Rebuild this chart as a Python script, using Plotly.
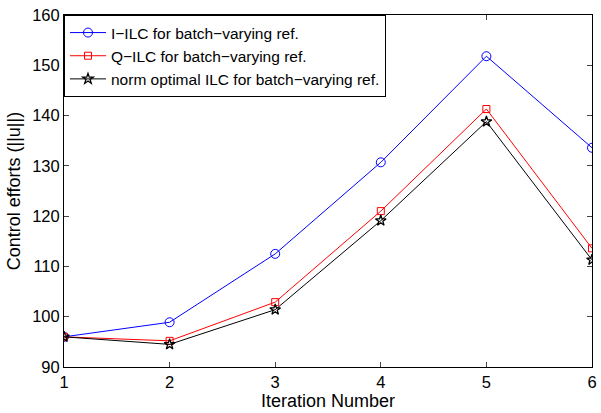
import plotly.graph_objects as go

iterations = [1, 2, 3, 4, 5, 6]
i_ilc = [96.0, 98.9, 112.5, 130.7, 151.8, 133.6]
q_ilc = [96.0, 95.2, 102.9, 121.0, 141.3, 113.6]
norm_opt = [96.0, 94.5, 101.4, 119.1, 138.8, 111.3]

names = ["I\u2212ILC for batch\u2212varying ref.",
         "Q\u2212ILC for batch\u2212varying ref.",
         "norm optimal ILC for batch\u2212varying ref."]

fig = go.Figure()
fig.add_trace(go.Scatter(x=iterations, y=i_ilc, name=names[0], mode="lines+markers",
                         line=dict(color="blue", width=1),
                         marker=dict(symbol="circle-open", size=9, color="blue", line=dict(width=1))))
fig.add_trace(go.Scatter(x=iterations, y=q_ilc, name=names[1], mode="lines+markers",
                         line=dict(color="red", width=1),
                         marker=dict(symbol="square-open", size=7, color="red", line=dict(width=1))))
fig.add_trace(go.Scatter(x=iterations, y=norm_opt, name=names[2], mode="lines+markers",
                         line=dict(color="black", width=1),
                         marker=dict(symbol="star-open", size=8, color="black", line=dict(width=1.3))))

font = dict(family="Liberation Sans, Arial, sans-serif", size=15, color="black")
fig.update_layout(
    width=601, height=413,
    margin=dict(l=64, r=4, t=15, b=46),
    paper_bgcolor="white", plot_bgcolor="white",
    font=font,
    showlegend=True,
    legend=dict(x=0, y=1, xanchor="left", yanchor="top",
                bordercolor="black", borderwidth=1, bgcolor="white",
                font=dict(family="Liberation Sans, Arial, sans-serif", size=15.5),
                tracegroupgap=0, itemwidth=36),
    xaxis=dict(range=[1, 6], tickvals=iterations, ticks="inside", ticklen=5,
               showline=True, linecolor="black", linewidth=1, mirror="ticks",
               showgrid=False, zeroline=False, ticklabeloverflow="allow",
               title=dict(text="Iteration Number", standoff=2),
               tickfont=dict(size=16.5)),
    yaxis=dict(range=[90, 160], dtick=10, ticks="inside", ticklen=5,
               showline=True, linecolor="black", linewidth=1, mirror="ticks",
               showgrid=False, zeroline=False, ticklabeloverflow="allow",
               title=dict(text="Control efforts (||u||)", standoff=6),
               tickfont=dict(size=16.5)),
)
fig.write_html("out.html")
